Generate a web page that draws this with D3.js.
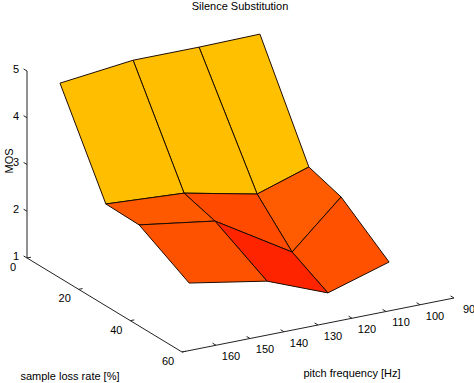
<!DOCTYPE html>
<html><head><meta charset="utf-8">
<script src="https://cdn.jsdelivr.net/npm/d3@7"></script>
<style>
html,body{margin:0;padding:0;background:#fff;}
svg{display:block;font-family:"Liberation Sans",Arial,Helvetica,sans-serif;}
</style></head>
<body>
<svg id="c" width="474" height="383"></svg>
<script>
// ---- data ----
const lossRates = [0, 20, 33, 50];               // sample loss rate [%] per grid row
const pitchRow0 = [160.3, 138.8, 119.4, 101.5];  // pitch [Hz] at loss 0
const pitchRow1 = [162.0, 139.0, 117.5, 102.3];  // pitch [Hz] at loss 20
const pitchRow2 = [162.1, 139.8, 117.1, 102.7];  // pitch [Hz] at loss 33
const pitchRow3 = [160.3, 137.4, 119.5, 101.5];  // pitch [Hz] at loss 50
const mosRow0 = [4.60, 4.78, 4.78, 4.80];
const mosRow1 = [2.71, 2.61, 2.28, 2.64];
const mosRow2 = [2.70, 2.46, 1.47, 2.44];
const mosRow3 = [2.00, 1.71, 1.20, 1.60];
const lossTicks = [0, 20, 40, 60];
const pitchTicks = [160, 150, 140, 130, 120, 110, 100, 90];
const mosTicks = [1, 2, 3, 4, 5];
const titleText = "Silence Substitution";

const pitchGrid = [pitchRow0, pitchRow1, pitchRow2, pitchRow3];
const mosGrid = [mosRow0, mosRow1, mosRow2, mosRow3];

// ---- scales / projection ----
const lossS = d3.scaleLinear().domain([0, 60]).range([0, 1]);
const pitchS = d3.scaleLinear().domain([170, 90]).range([0, 1]);
const mosS = d3.scaleLinear().domain([1, 5]).range([0, 1]);
const color = d3.scaleLinear().domain([0.7, 6.15]).range(["#ff0000", "#ffff00"]).clamp(true);

const O = [27, 258], LV = [155, 94], PV = [272, -54], ZV = [0, -187];
function proj(l, p, z) {
  const u = lossS(l), v = pitchS(p), w = mosS(z);
  return [O[0] + u * LV[0] + v * PV[0] + w * ZV[0],
          O[1] + u * LV[1] + v * PV[1] + w * ZV[1]];
}
function near(l, p) { return lossS(l) * LV[1] + pitchS(p) * PV[1]; }

const svg = d3.select("#c");
const axisCol = "#222";

// ---- axes ----
const g = svg.append("g");
function line(a, b) {
  g.append("line").attr("x1", a[0]).attr("y1", a[1]).attr("x2", b[0]).attr("y2", b[1])
    .attr("stroke", axisCol).attr("stroke-width", 1);
}
// z axis
line(proj(0, 170, 1), proj(0, 170, 5));
// loss axis
line(proj(0, 170, 1), proj(60, 170, 1));
// pitch axis
line(proj(60, 170, 1), proj(60, 90, 1));

const lossDir = [-LV[0] / Math.hypot(...LV), -LV[1] / Math.hypot(...LV)];
const pitchDir = [PV[0] / Math.hypot(...PV), PV[1] / Math.hypot(...PV)];
const tl = 4;
mosTicks.forEach(t => {
  const a = proj(0, 170, t);
  line(a, [a[0] + lossDir[0] * tl, a[1] + lossDir[1] * tl]);
  g.append("text").attr("x", a[0] - 8).attr("y", a[1] - 1).attr("text-anchor", "end")
    .attr("dominant-baseline", "middle").attr("font-size", 11).attr("fill", "#000").text(t);
});
lossTicks.forEach(t => {
  const a = proj(t, 170, 1);
  line(a, [a[0] + pitchDir[0] * tl, a[1] + pitchDir[1] * tl]);
  g.append("text").attr("x", a[0] - 14).attr("y", a[1] + 10).attr("text-anchor", "middle")
    .attr("dominant-baseline", "middle").attr("font-size", 11).attr("fill", "#000").text(t);
});
pitchTicks.forEach(t => {
  const a = proj(60, t, 1);
  line(a, [a[0] + lossDir[0] * tl, a[1] + lossDir[1] * tl]);
  g.append("text").attr("x", a[0] + 15).attr("y", a[1] + 12).attr("text-anchor", "middle")
    .attr("dominant-baseline", "middle").attr("font-size", 11).attr("fill", "#000").text(t);
});

// ---- surface facets ----
const facets = [];
for (let i = 0; i < lossRates.length - 1; i++) {
  for (let j = 0; j < pitchGrid[i].length - 1; j++) {
    const idx = [[i, j], [i, j + 1], [i + 1, j + 1], [i + 1, j]];
    const pts = idx.map(([r, c]) => proj(lossRates[r], pitchGrid[r][c], mosGrid[r][c]));
    const depth = d3.mean(idx, ([r, c]) => near(lossRates[r], pitchGrid[r][c]));
    facets.push({pts, depth, fill: color(mosGrid[i][j + 1])});
  }
}
facets.sort((a, b) => a.depth - b.depth);
svg.append("g").selectAll("path").data(facets).join("path")
  .attr("d", d => "M" + d.pts.map(p => p.join(",")).join("L") + "Z")
  .attr("fill", d => d.fill)
  .attr("stroke", "#1e0c00").attr("stroke-width", 1).attr("stroke-linejoin", "round");

// ---- labels ----
svg.append("text").attr("x", 240).attr("y", 10).attr("text-anchor", "middle")
  .attr("font-size", 11).attr("fill", "#000").text(titleText);
svg.append("text").attr("transform", "translate(13,161) rotate(-90)").attr("text-anchor", "middle")
  .attr("font-size", 11).attr("fill", "#000").text("MOS");
svg.append("text").attr("x", 70).attr("y", 380).attr("text-anchor", "middle")
  .attr("font-size", 11).attr("fill", "#000").text("sample loss rate [%]");
svg.append("text").attr("x", 352).attr("y", 377).attr("text-anchor", "middle")
  .attr("font-size", 11).attr("fill", "#000").text("pitch frequency [Hz]");
</script>
</body></html>
